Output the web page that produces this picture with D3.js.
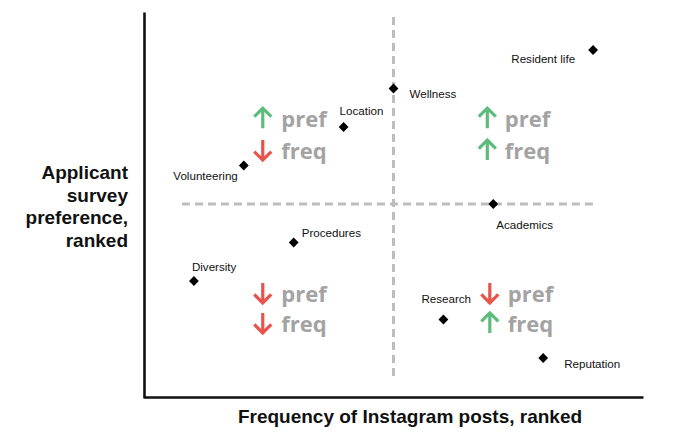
<!DOCTYPE html>
<html><head><meta charset="utf-8">
<script src="https://cdn.jsdelivr.net/npm/d3@7"></script>
<style>body{margin:0;background:#fff}svg{display:block}</style>
</head><body>
<script>
// Data
const categories = ["Diversity","Volunteering","Procedures","Location","Wellness","Research","Academics","Reputation","Resident life"];
const freqRank   = [1,2,3,4,5,6,7,8,9];
const prefRank   = [3,6,4,7,8,2,5,1,9];
const xTitle = "Frequency of Instagram posts, ranked";
const yTitleLines = ["Applicant","survey","preference,","ranked"];
const quadrants = [
  {pref:"up",   freq:"down"},
  {pref:"up",   freq:"up"},
  {pref:"down", freq:"down"},
  {pref:"down", freq:"up"}
];
</script>
<script>
const W=680,H=444;
const svg=d3.select("body").append("svg").attr("width",W).attr("height",H);
const x=d3.scaleLinear().domain([0,10]).range([144,643]);
const y=d3.scaleLinear().domain([0,10]).range([396.5,11.5]);

// axes
const gx=svg.append("g").attr("transform","translate(0,397)")
  .call(d3.axisBottom(x).tickValues([]).tickSizeOuter(0));
const gy=svg.append("g").attr("transform","translate(144.5,0)")
  .call(d3.axisLeft(y).tickValues([]).tickSizeOuter(0));
[gx,gy].forEach(g=>g.select(".domain").attr("stroke","#111").attr("stroke-width",2.6));
gy.select(".domain").attr("d","M0,12.5V398.5");

// dashed mid lines
svg.append("line").attr("x1",x(5)).attr("x2",x(5)).attr("y1",y(9.86)).attr("y2",y(0.43))
  .attr("stroke","#bdbdbd").attr("stroke-width",3).attr("stroke-dasharray","8,5");
svg.append("line").attr("x1",x(0.76)).attr("x2",x(9.08)).attr("y1",y(5)).attr("y2",y(5))
  .attr("stroke","#bdbdbd").attr("stroke-width",3).attr("stroke-dasharray","8,5");

// points
const pts=categories.map((c,i)=>({c,f:freqRank[i],p:prefRank[i]}));
svg.selectAll("path.pt").data(pts).join("path").attr("class","pt")
  .attr("d",d3.symbol(d3.symbolSquare,48))
  .attr("transform",d=>`translate(${x(d.f)},${y(d.p)}) rotate(45)`)
  .attr("fill","#000");

// labels layout
const lab={
 "Resident life":{dx:-18,dy:8,a:"end"},
 "Wellness":{dx:16,dy:5,a:"start"},
 "Location":{dx:-4,dy:-17,a:"start"},
 "Volunteering":{dx:-6,dy:10,a:"end"},
 "Academics":{dx:3,dy:20,a:"start"},
 "Procedures":{dx:8,dy:-10,a:"start"},
 "Diversity":{dx:-2,dy:-15,a:"start"},
 "Research":{dx:-22,dy:-21,a:"start"},
 "Reputation":{dx:21,dy:5,a:"start"}
};
svg.selectAll("text.lab").data(pts).join("text").attr("class","lab")
  .attr("x",d=>x(d.f)+lab[d.c].dx).attr("y",d=>y(d.p)+lab[d.c].dy)
  .attr("text-anchor",d=>lab[d.c].a).attr("dominant-baseline","central")
  .attr("font-family","Liberation Sans, Arial, sans-serif").attr("font-size",11.6).attr("fill","#111")
  .text(d=>d.c);

// quadrant annotations
const qpos=[{ax:2.38,tx:2.75,py:7.23,fy:6.40},{ax:6.88,tx:7.23,py:7.23,fy:6.40},
            {ax:2.38,tx:2.75,py:2.69,fy:1.91},{ax:6.93,tx:7.29,py:2.69,fy:1.91}];
const green="#5dbb7c", red="#e8534c";
function arrow(g,cx,cy,dir,col){
  const h=10, s=dir==="up"?-1:1;
  g.append("path").attr("d",`M${cx},${cy-s*h}L${cx},${cy+s*h}M${cx-8.5},${cy+s*(h-8.5)}L${cx},${cy+s*h}L${cx+8.5},${cy+s*(h-8.5)}`)
   .attr("fill","none").attr("stroke",col).attr("stroke-width",3.2).attr("stroke-linecap","butt").attr("stroke-linejoin","miter");
}
quadrants.forEach((q,i)=>{
  const p=qpos[i], g=svg.append("g");
  arrow(g,x(p.ax),y(p.py),q.pref,q.pref==="up"?green:red);
  arrow(g,x(p.ax),y(p.fy),q.freq,q.freq==="up"?green:red);
  [["pref",p.py],["freq",p.fy]].forEach(([t,yy])=>{
    g.append("text").attr("x",x(p.tx)).attr("y",y(yy)).attr("dominant-baseline","central")
     .attr("font-family","Open Sans, sans-serif").attr("font-weight","bold").attr("font-size",22)
     .attr("fill","#a3a3a3").text(t);
  });
});

// titles
svg.append("text").attr("x",410).attr("y",423).attr("text-anchor","middle")
  .attr("font-family","Liberation Sans, Arial, sans-serif").attr("font-weight","bold").attr("font-size",19)
  .attr("fill","#111").text(xTitle);
const yt=svg.append("text").attr("text-anchor","end")
  .attr("font-family","Liberation Sans, Arial, sans-serif").attr("font-weight","bold").attr("font-size",19).attr("fill","#111");
yTitleLines.forEach((l,i)=>yt.append("tspan").attr("x",128).attr("y",179+i*22.5).text(l));
</script>
</body></html>
